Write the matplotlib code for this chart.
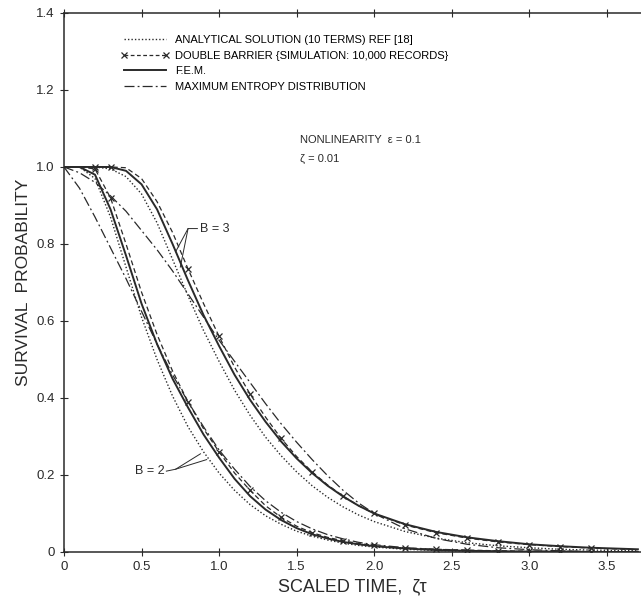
import numpy as np
import matplotlib.pyplot as plt
from matplotlib.lines import Line2D

# scaled time grid shared by every curve
t = [0, 0.1, 0.2, 0.3, 0.4, 0.5, 0.6, 0.7, 0.8, 0.9, 1.0, 1.1, 1.2, 1.3, 1.4,
     1.5, 1.6, 1.7, 1.8, 1.9, 2.0, 2.2, 2.4, 2.6, 2.8, 3.0, 3.2, 3.4, 3.7]

# B = 2
analytic_b2 = [1.0, 1.0, 0.97, 0.87, 0.74, 0.61, 0.50, 0.405, 0.325, 0.26, 0.205, 0.16, 0.123, 0.094, 0.072,
               0.054, 0.041, 0.031, 0.023, 0.017, 0.013, 0.007, 0.004, 0.002, 0.001, 0.0, 0.0, 0.0, 0.0]
sim_b2 = [1.0, 1.0, 0.995, 0.92, 0.80, 0.675, 0.565, 0.47, 0.39, 0.32, 0.26, 0.205, 0.16, 0.12, 0.09,
          0.067, 0.05, 0.038, 0.029, 0.022, 0.017, 0.010, 0.007, 0.005, 0.003, 0.002, 0.002, 0.001, 0.001]
fem_b2 = [1.0, 1.0, 0.98, 0.89, 0.77, 0.645, 0.54, 0.45, 0.375, 0.305, 0.245, 0.19, 0.145, 0.11, 0.083,
          0.062, 0.046, 0.035, 0.026, 0.02, 0.015, 0.009, 0.005, 0.003, 0.002, 0.001, 0.001, 0.0, 0.0]
maxent_b2 = [1.0, 0.945, 0.87, 0.79, 0.71, 0.625, 0.54, 0.46, 0.39, 0.325, 0.265, 0.215, 0.17, 0.133, 0.103,
             0.079, 0.06, 0.045, 0.034, 0.025, 0.019, 0.011, 0.007, 0.004, 0.002, 0.001, 0.0, 0.0, 0.0]

# B = 3
analytic_b3 = [1.0, 1.0, 1.0, 0.995, 0.975, 0.93, 0.855, 0.76, 0.665, 0.575, 0.495, 0.42, 0.355, 0.298, 0.25,
               0.208, 0.172, 0.142, 0.117, 0.096, 0.079, 0.053, 0.036, 0.024, 0.016, 0.011, 0.007, 0.005, 0.003]
sim_b3 = [1.0, 1.0, 1.0, 1.0, 0.998, 0.97, 0.91, 0.83, 0.735, 0.645, 0.56, 0.48, 0.41, 0.35, 0.295,
          0.248, 0.208, 0.174, 0.145, 0.12, 0.10, 0.07, 0.05, 0.036, 0.026, 0.019, 0.014, 0.01, 0.006]
fem_b3 = [1.0, 1.0, 1.0, 1.0, 0.99, 0.955, 0.89, 0.80, 0.705, 0.615, 0.535, 0.46, 0.395, 0.338, 0.287,
          0.243, 0.205, 0.172, 0.144, 0.12, 0.10, 0.072, 0.052, 0.038, 0.028, 0.02, 0.015, 0.011, 0.007]
maxent_b3 = [1.0, 0.985, 0.96, 0.925, 0.885, 0.835, 0.785, 0.73, 0.67, 0.61, 0.55, 0.495, 0.44, 0.385, 0.333,
             0.285, 0.24, 0.198, 0.16, 0.127, 0.10, 0.06, 0.035, 0.02, 0.011, 0.006, 0.003, 0.001, 0.0]

x_ticks = [0, 0.5, 1.0, 1.5, 2.0, 2.5, 3.0, 3.5]
x_ticklabels = ['0', '0.5', '1.0', '1.5', '2.0', '2.5', '3.0', '3.5']
y_ticks = [0, 0.2, 0.4, 0.6, 0.8, 1.0, 1.2, 1.4]
y_ticklabels = ['0', '0.2', '0.4', '0.6', '0.8', '1.0', '1.2', '1.4']

INK = '#2a2a2a'
plt.rcParams['font.family'] = ['Liberation Sans', 'DejaVu Sans']

fig = plt.figure(figsize=(6.41, 6.03), dpi=100)
ax = fig.add_axes([0.0998, 0.0846, 0.9002, 0.8939])

for y_an, y_sim, y_fem, y_me in [(analytic_b2, sim_b2, fem_b2, maxent_b2),
                                 (analytic_b3, sim_b3, fem_b3, maxent_b3)]:
    ax.plot(t, y_an, ls=(0, (1, 1.5)), lw=1.0, color=INK)
    ax.plot(t, y_sim, ls=(0, (4, 2.5)), lw=0.9, color=INK, marker='x', ms=4,
            mew=0.9, markevery=[2, 3, 8, 10, 12, 14, 16, 18, 20, 21, 22, 23, 24, 25, 26, 27])
    ax.plot(t, y_fem, ls='-', lw=1.4, color=INK)
    ax.plot(t, y_me, ls=(0, (8, 2.5, 1.5, 2.5)), lw=0.9, color=INK)

handles = [Line2D([], [], ls=(0, (1, 1.5)), lw=1.0, color=INK),
           Line2D([], [], ls=(0, (3, 2)), lw=0.9, color=INK, marker='x', ms=4, mew=0.9),
           Line2D([], [], ls='-', lw=1.4, color=INK),
           Line2D([], [], ls=(0, (8, 2.5, 1.5, 2.5)), lw=0.9, color=INK)]
labels = ['ANALYTICAL SOLUTION (10 TERMS) REF [18]',
          'DOUBLE BARRIER {SIMULATION: 10,000 RECORDS}',
          'F.E.M.',
          'MAXIMUM ENTROPY DISTRIBUTION']
ax.legend(handles, labels, loc='upper left', bbox_to_anchor=(0.09, 0.967), frameon=False,
          fontsize=8, handlelength=4.4, handletextpad=0.5, labelspacing=0.5, numpoints=2,
          borderaxespad=0)

ax.text(1.52, 1.062, 'NONLINEARITY  \u03b5 = 0.1', fontsize=8, color=INK)
ax.text(1.52, 1.013, '\u03b6 = 0.01', fontsize=8, color=INK)

ax.text(0.88, 0.84, 'B = 3', fontsize=9, color=INK, va='center')
ax.plot([0.86, 0.8, 0.72], [0.84, 0.84, 0.78], color=INK, lw=0.7)
ax.plot([0.8, 0.75], [0.84, 0.74], color=INK, lw=0.7)

ax.text(0.46, 0.21, 'B = 2', fontsize=9, color=INK, va='center')
ax.plot([0.66, 0.72, 0.88], [0.21, 0.215, 0.255], color=INK, lw=0.7)
ax.plot([0.72, 0.92], [0.215, 0.24], color=INK, lw=0.7)

ax.set_xlim(0, 3.72)
ax.set_ylim(0, 1.4)
ax.set_xticks(x_ticks)
ax.set_xticklabels(x_ticklabels)
ax.set_yticks(y_ticks)
ax.set_yticklabels(y_ticklabels)
ax.tick_params(axis='both', direction='inout', length=6, width=0.8, colors=INK, labelsize=9.5)
ax.tick_params(axis='x', top=True)
ax.spines['right'].set_visible(False)
for s in ['left', 'bottom', 'top']:
    ax.spines[s].set_color(INK)
    ax.spines[s].set_linewidth(1.1)

ax.set_xlabel('SCALED TIME,  \u03b6\u03c4', fontsize=13, color=INK, labelpad=4)
ax.set_ylabel('SURVIVAL  PROBABILITY', fontsize=12.5, color=INK, labelpad=4)

fig.savefig('out.png', dpi=100)
